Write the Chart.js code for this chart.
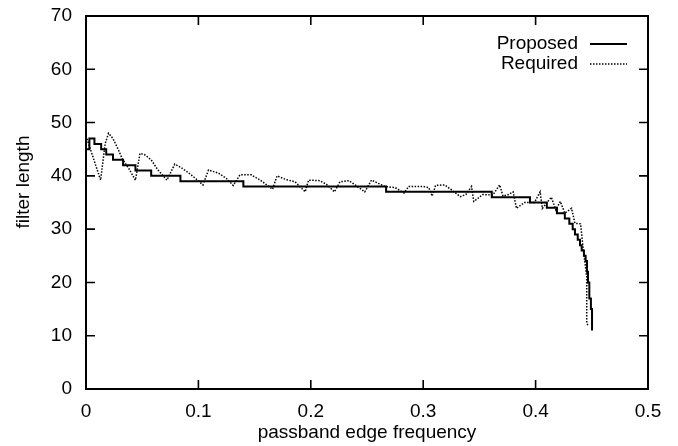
<!doctype html>
<html lang="en">
  <head>
    <meta charset="UTF-8" />
    <title>filter length vs passband edge frequency</title>
    <script src="https://cdn.jsdelivr.net/npm/chart.js@4"></script>
    <style>
      html, body { margin: 0; padding: 0; background: #fff; }
      #wrap { width: 678px; height: 446px; }
    </style>
  </head>
  <body>
    <div id="wrap"><canvas id="chart" width="678" height="446"></canvas></div>
    <script>
      // tick values
      const xTicks = [0, 0.1, 0.2, 0.3, 0.4, 0.5];
      const yTicks = [0, 10, 20, 30, 40, 50, 60, 70];

      // Proposed: step line, each value holds until the next x
      const proposedX = [0, 0.003, 0.0075, 0.0135, 0.018, 0.024, 0.033, 0.044, 0.058, 0.084, 0.140, 0.267,
        0.361, 0.395, 0.410, 0.419, 0.426, 0.430, 0.433, 0.435, 0.4375, 0.4395, 0.441, 0.443, 0.4445,
        0.4457, 0.4466, 0.4478, 0.4492, 0.4502];
      const proposedY = [45, 47, 46, 45, 44, 43, 42, 41, 40, 39, 38, 37,
        36, 35, 34, 33, 32, 31, 30, 29, 28, 27, 26, 25, 24,
        22, 20, 17, 15, 11];

      // Required: dotted line
      const requiredX = [0, 0.013, 0.017, 0.020, 0.024, 0.029, 0.032, 0.038, 0.044, 0.048, 0.052, 0.058,
        0.064, 0.072, 0.079, 0.085, 0.091, 0.097, 0.104, 0.109, 0.118, 0.125, 0.131, 0.137, 0.147,
        0.155, 0.166, 0.170, 0.178, 0.186, 0.195, 0.198, 0.208, 0.214, 0.221, 0.226, 0.234, 0.240,
        0.248, 0.254, 0.260, 0.266, 0.275, 0.283, 0.287, 0.300, 0.305, 0.308, 0.311, 0.319, 0.325,
        0.333, 0.338, 0.343, 0.345, 0.353, 0.362, 0.368, 0.371, 0.376, 0.380, 0.383, 0.390, 0.399,
        0.404, 0.406, 0.414, 0.418, 0.422, 0.426, 0.432, 0.435, 0.440, 0.4425, 0.444, 0.4455,
        0.4455, 0.4465];
      const requiredY = [47.5, 39.2, 46, 48, 47, 44.8, 43.3, 41.4, 39.2, 44.2, 44, 43,
        41.1, 39.2, 42.2, 41.5, 40.6, 39.6, 38.3, 41.1, 40.5, 39.5, 38.2, 40.2, 40.2,
        39.2, 37.5, 40, 39.3, 38.9, 37, 39.2, 39.1, 38.4, 37, 38.9, 39.1, 38.2,
        37, 39.2, 38.6, 38, 37.8, 36.8, 38, 38, 37.8, 36.2, 38.2, 38.3, 37.4,
        36.1, 36.5, 38, 35.2, 36.5, 36.4, 38.3, 36.2, 36.5, 37, 33.9, 35, 35,
        37, 33.9, 36, 33.6, 35.2, 33, 33.9, 31.1, 31, 26, 23.6, 21,
        12.3, 12];

      const FONT = "'Liberation Sans', Arial, Helvetica, sans-serif";

      // box, inward ticks, legend and y title
      const framePlugin = {
        id: 'frame',
        afterDraw(chart) {
          const { ctx, chartArea: a, scales } = chart;
          const xs = scales.x, ys = scales.y;
          ctx.save();
          ctx.strokeStyle = '#000';
          ctx.lineWidth = 2;
          ctx.strokeRect(a.left, a.top, a.right - a.left, a.bottom - a.top);

          ctx.lineWidth = 1.6;
          ctx.beginPath();
          yTicks.forEach((v) => {
            const p = ys.getPixelForValue(v);
            ctx.moveTo(a.left, p); ctx.lineTo(a.left + 9, p);
            ctx.moveTo(a.right, p); ctx.lineTo(a.right - 9, p);
          });
          xTicks.forEach((v) => {
            const p = xs.getPixelForValue(v);
            ctx.moveTo(p, a.bottom); ctx.lineTo(p, a.bottom - 9);
            ctx.moveTo(p, a.top); ctx.lineTo(p, a.top + 9);
          });
          ctx.stroke();

          // legend: text on the left, sample on the right
          ctx.font = '19px ' + FONT;
          ctx.fillStyle = '#000';
          ctx.textAlign = 'right';
          ctx.textBaseline = 'middle';
          chart.data.datasets.forEach((ds, i) => {
            const yy = 44 + i * 20;
            ctx.fillText(ds.label, 578, yy);
            ctx.beginPath();
            ctx.setLineDash(ds.borderDash || []);
            ctx.lineWidth = ds.borderWidth;
            ctx.strokeStyle = ds.borderColor;
            ctx.moveTo(590, yy); ctx.lineTo(627, yy);
            ctx.stroke();
          });
          ctx.setLineDash([]);

          // y axis title
          ctx.translate(24, 182);
          ctx.rotate(-Math.PI / 2);
          ctx.textAlign = 'center';
          ctx.fillText('filter length', 0, 0);
          ctx.restore();
        },
      };

      const chart = new Chart(document.getElementById('chart'), {
        type: 'line',
        data: {
          datasets: [
            {
              label: 'Proposed',
              data: proposedX.map((x, i) => ({ x: x, y: proposedY[i] })),
              borderColor: '#000',
              borderWidth: 2,
              stepped: true,
              pointRadius: 0,
              fill: false,
            },
            {
              label: 'Required',
              data: requiredX.map((x, i) => ({ x: x, y: requiredY[i] })),
              borderColor: '#000',
              borderWidth: 1.5,
              borderDash: [1.5, 1.5],
              tension: 0,
              pointRadius: 0,
              fill: false,
            },
          ],
        },
        options: {
          responsive: false,
          animation: false,
          devicePixelRatio: 1,
          layout: { padding: { left: 0, right: 30, top: 16, bottom: 0 } },
          plugins: {
            legend: { display: false },
            tooltip: { enabled: false },
          },
          scales: {
            x: {
              type: 'linear',
              min: 0,
              max: 0.5,
              afterFit: (s) => { s.height = 57; },
              grid: { display: false, drawTicks: false },
              border: { display: false },
              ticks: {
                stepSize: 0.1,
                autoSkip: false,
                maxRotation: 0,
                padding: 11,
                color: '#000',
                font: { family: FONT, size: 19 },
                callback: (v) => (v === 0 ? '0' : v.toFixed(1)),
              },
              title: {
                display: true,
                text: 'passband edge frequency',
                color: '#000',
                font: { family: FONT, size: 19 },
                padding: { top: 0, bottom: 2 },
              },
            },
            y: {
              min: 0,
              max: 70,
              // fixed width, and no extra top room for the "70" label
              afterFit: (s) => { s.width = 86; s.paddingTop = 0; s.paddingBottom = 0; },
              grid: { display: false, drawTicks: false },
              border: { display: false },
              ticks: {
                stepSize: 10,
                padding: 14,
                color: '#000',
                font: { family: FONT, size: 19 },
              },
            },
          },
        },
        plugins: [framePlugin],
      });
    </script>
  </body>
</html>
